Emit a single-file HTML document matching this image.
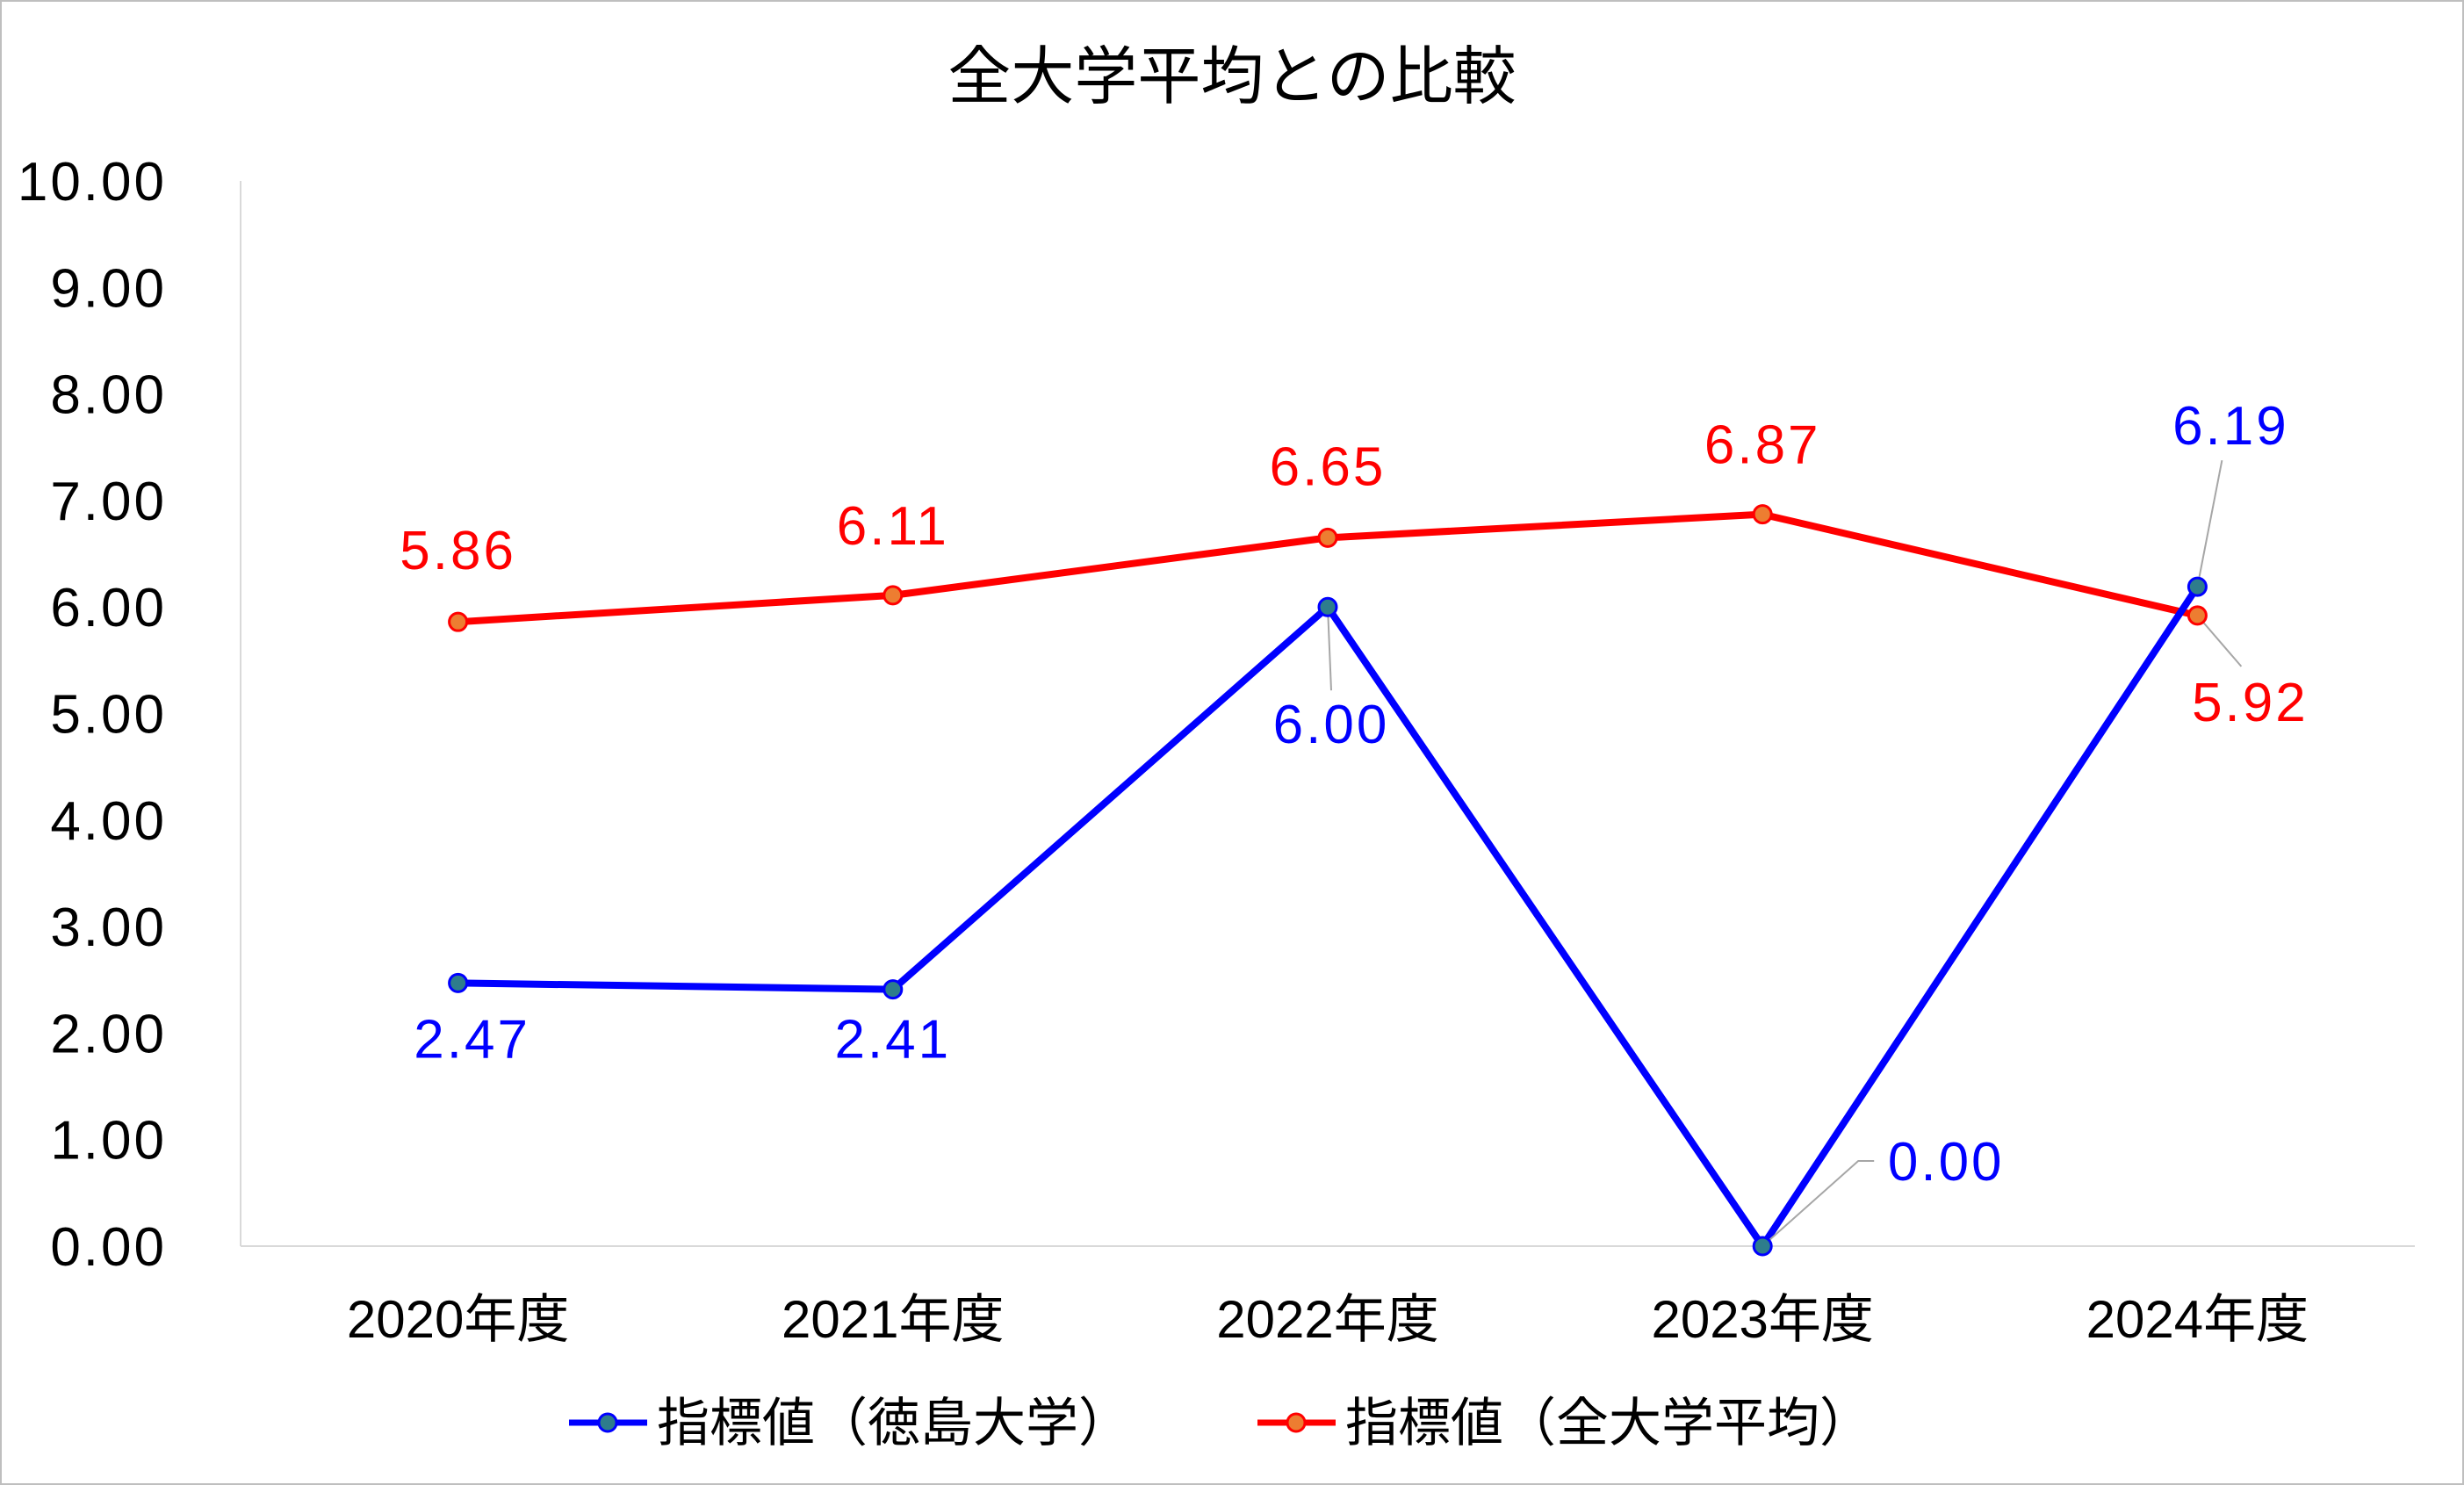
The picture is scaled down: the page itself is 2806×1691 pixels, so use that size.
<!DOCTYPE html>
<html><head><meta charset="utf-8"><style>
html,body{margin:0;padding:0;background:#fff}
svg{display:block}
text{font-family:"Liberation Sans","Noto Sans CJK JP",sans-serif}
</style></head><body>
<svg id="chart" width="2806" height="1691" viewBox="0 0 2806 1691" xmlns="http://www.w3.org/2000/svg">
<rect x="1" y="1" width="2804" height="1689" fill="#fff" stroke="#bfbfbf" stroke-width="2"/>
<text x="1403" y="112" font-size="72" text-anchor="middle" fill="#000">全大学平均との比較</text>
<g id="axes"></g>
<g id="series"></g>
<g id="legend">
<line x1="648" y1="1620" x2="737" y2="1620" stroke="#0000ff" stroke-width="7"/>
<circle cx="692" cy="1620" r="10" fill="#2e7d8c" stroke="#0000ff" stroke-width="3"/>
<text x="748" y="1641" font-size="60">指標値（徳島大学）</text>
<line x1="1432" y1="1620" x2="1521" y2="1620" stroke="#ff0000" stroke-width="7"/>
<circle cx="1476" cy="1620" r="10" fill="#ed7d31" stroke="#ff0000" stroke-width="3"/>
<text x="1532" y="1641" font-size="60">指標値（全大学平均）</text>
</g>
</svg>
<script>
const categories = ["2020年度","2021年度","2022年度","2023年度","2024年度"];
const tokushimaValues = [2.47, 2.41, 6.00, 0.00, 6.19];
const averageValues = [5.86, 6.11, 6.65, 6.87, 5.92];
const yTicks = [0,1,2,3,4,5,6,7,8,9,10];

const NS = "http://www.w3.org/2000/svg";
const plotLeft = 274, plotRight = 2750, plotTop = 206, plotBottom = 1419, yMax = 10;
const band = (plotRight - plotLeft) / categories.length;
function xPos(i){ return plotLeft + band * (i + 0.5); }
function yPos(v){ return plotBottom - (v / yMax) * (plotBottom - plotTop); }
function mk(tag, attrs, parent){
  const e = document.createElementNS(NS, tag);
  for (const k in attrs) e.setAttribute(k, attrs[k]);
  parent.appendChild(e); return e;
}
const axesG = document.getElementById('axes');
const seriesG = document.getElementById('series');

const yl = mk('line', {x1:plotLeft, y1:plotTop, x2:plotLeft, y2:plotBottom, stroke:'#d9d9d9', 'stroke-width':2}, axesG);


const xl = mk('line', {x1:plotLeft, y1:plotBottom, x2:plotRight, y2:plotBottom, stroke:'#d9d9d9', 'stroke-width':2}, axesG);



yTicks.forEach(t => {
  const e = mk('text', {x:190, y:yPos(t) + 22, 'font-size':62, 'text-anchor':'end', fill:'#000', 'letter-spacing':'3'}, axesG);
  e.textContent = t.toFixed(2);
  
  
});
categories.forEach((c, i) => {
  const e = mk('text', {x:xPos(i), y:1523, 'font-size':60, 'text-anchor':'middle', fill:'#000'}, axesG);
  e.textContent = c;
  
  
});

function drawSeries(vals, color, name){
  const pts = vals.map((v, i) => xPos(i) + ',' + yPos(v)).join(' ');
  const pl = mk('polyline', {points:pts, fill:'none', stroke:color, 'stroke-width':8, 'stroke-linejoin':'round'}, seriesG);
  
  
}
drawSeries(averageValues, '#ff0000', 'average');
drawSeries(tokushimaValues, '#0000ff', 'tokushima');

const blueOff = [[16,85],[0,78],[4,155],[209,-75],[38,-162]];
const redOff = [[0,-60],[0,-58],[0,-60],[0,-58],[60,120]];
function labels(vals, color, offs, name){
  vals.forEach((v, i) => {
    const x = xPos(i), y = yPos(v), o = offs[i];
    const lx = x + o[0], ly = y + o[1];
    const needLeader = Math.abs(o[0]) > 50 || Math.abs(o[1]) > 100;
    if (needLeader){
      let ex = lx, ey = ly - 22;
      let extra = '';
      if (o[1] > 100 && Math.abs(o[0]) < 50) { ex = x + 4; ey = ly - 60; }
      else if (o[0] > 150) { ex = lx - 100; ey = ly - 22; extra = ' ' + (ex + 18) + ',' + ey; }
      else if (o[1] < -100) { ex = lx - 10; ey = ly + 18; }
      else if (o[0] > 50 && o[1] > 0) { ex = lx - 10; ey = ly - 62; }
      const ln = mk('polyline', {points: x+','+y+' '+ex+','+ey + extra, fill:'none', stroke:'#a6a6a6', 'stroke-width':2}, seriesG);
      
      
    }
    const t = mk('text', {x:lx, y:ly, 'font-size':62, 'text-anchor':'middle', fill:color, 'letter-spacing':'3'}, seriesG);
    t.textContent = v.toFixed(2);
    
    
  });
}
function markers(vals, color, fill, name){
  vals.forEach((v, i) => {
    const c = mk('circle', {cx:xPos(i), cy:yPos(v), r:10, fill:fill, stroke:color, 'stroke-width':3}, seriesG);
    
    
  });
}
labels(averageValues, '#ff0000', redOff, 'average');
labels(tokushimaValues, '#0000ff', blueOff, 'tokushima');
markers(averageValues, '#ff0000', '#ed7d31', 'average');
markers(tokushimaValues, '#0000ff', '#2e7d8c', 'tokushima');
</script>
</body></html>
